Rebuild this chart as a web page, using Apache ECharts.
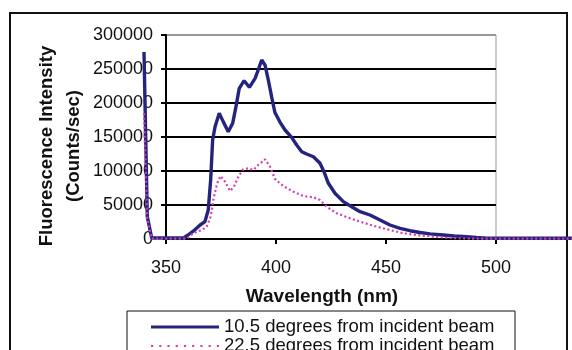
<!DOCTYPE html>
<html>
<head>
<meta charset="utf-8">
<script src="https://cdn.jsdelivr.net/npm/echarts@6/dist/echarts.min.js"></script>
<style>
  html, body { margin: 0; padding: 0; background: #fff; }
  #chart { width: 572px; height: 350px; }
</style>
</head>
<body>
<div id="chart"></div>
<script>
// series names
var seriesNames = ['10.5 degrees from incident beam', '22.5 degrees from incident beam'];

// 10.5 deg: wavelength (nm) and counts/sec
var wl105 = [340, 341.5, 343.5, 350, 358, 360, 363, 365.5, 367.7, 369.2, 370.3, 371.2, 372.3, 374.2, 376, 378.3, 380.3, 381.8, 383.3, 385.5, 387.9, 390.5, 391.9, 393.5, 395, 396.5, 398, 399.5, 401.8, 404.1, 407.1, 409.4, 411.7, 413.9, 417, 420, 421.8, 423.8, 426.8, 430.6, 434.4, 438.2, 442.7, 447.3, 451.8, 456.4, 460.9, 465.5, 470, 476, 481, 486.7, 491, 495.8, 500, 510, 520, 530, 540];
var int105 = [275000, 33000, 1500, 1500, 1500, 5900, 13200, 20600, 25500, 42600, 86800, 145600, 165200, 184800, 172600, 157800, 170100, 194600, 221600, 232800, 223100, 236300, 248500, 263200, 255900, 233800, 209300, 186000, 172000, 160300, 149500, 138200, 128400, 125000, 121000, 111300, 99000, 81900, 67200, 54900, 47500, 40200, 35300, 27900, 20600, 15700, 12200, 9500, 7500, 5900, 4500, 3400, 2200, 1200, 1000, 1000, 1000, 1000, 1000];

// 22.5 deg
var wl225 = [340, 341.5, 343.5, 350, 359.4, 362.4, 366.2, 368.5, 370.3, 371.8, 373.3, 374.8, 376.8, 379.1, 380.9, 382.9, 385.1, 387.4, 389.7, 391.9, 395, 397.3, 399.5, 401.8, 403.3, 407.9, 412.4, 417, 420, 423, 427.6, 433.6, 439.7, 445.8, 451.8, 457.9, 464, 471.5, 477, 483.6, 490, 500, 510, 520, 530, 540];
var int225 = [185000, 30000, 500, 500, 500, 8400, 13200, 18100, 32800, 62200, 81900, 92600, 84300, 70600, 76900, 91600, 102500, 104000, 101500, 108800, 117200, 106300, 88500, 81900, 77900, 69600, 63200, 61300, 57400, 47500, 37800, 30400, 24000, 18100, 13200, 8400, 5900, 3400, 2000, 1000, 500, 500, 500, 500, 500, 500];

function pairs(xs, ys) {
  return xs.map(function (x, i) { return [x, ys[i]]; });
}

var font = 'Liberation Sans, Arial, sans-serif';
var blue = '#24247f';
var pink = '#d23fb2';

// the data grid starts 22px left of the axes grid, at 2.2 px per nm (330px / 150nm)
var pxPerNm = 330 / 150;
var dataMax = 340 + (572 - 144) / pxPerNm;

// legend icons: solid bar and a row of dots
var dotPath = 'path://';
for (var i = 0; i < 9; i++) {
  var x0 = i * 8.3;
  dotPath += 'M' + x0 + ',0h2.2v2.2h-' + 2.2 + 'z';
}

var chart = echarts.init(document.getElementById('chart'), null, { renderer: 'canvas' });

var legendText = { color: '#111', fontSize: 18.5, fontFamily: font, lineHeight: 19 };

var option = {
  animation: false,
  backgroundColor: '#fff',
  grid: [
    { // visible axes 350..500
      left: 166, width: 330, top: 35, height: 204,
      show: true, borderColor: '#999', borderWidth: 1
    },
    { // data grid, same scale, wider range so the curves run past the axes
      left: 144, right: 0, top: 35, height: 204
    }
  ],
  xAxis: [
    {
      type: 'value', gridIndex: 0,
      min: 350, max: 500, interval: 50,
      axisLine: { lineStyle: { color: '#000', width: 2 } },
      axisTick: { show: true, length: 5, lineStyle: { color: '#000', width: 2 } },
      axisLabel: { color: '#111', fontSize: 18, fontFamily: font, margin: 20 },
      splitLine: { show: false }
    },
    { type: 'value', gridIndex: 1, min: 340, max: dataMax, show: false }
  ],
  yAxis: [
    {
      type: 'value', gridIndex: 0,
      min: 0, max: 300000, interval: 50000,
      axisLine: { show: true, lineStyle: { color: '#000', width: 2 } },
      axisTick: { show: true, length: 5, lineStyle: { color: '#000', width: 2 } },
      axisLabel: {
        color: '#111', fontSize: 18, fontFamily: font, margin: 13,
        formatter: function (v) { return String(v); }
      },
      splitLine: {
        show: true,
        lineStyle: { color: ['#000', '#000', '#000', '#000', '#000', '#000', '#999'], width: 2 }
      }
    },
    { type: 'value', gridIndex: 1, min: 0, max: 300000, show: false }
  ],
  legend: [
    {
      left: 151, top: 317.5, padding: 0,
      itemWidth: 68, itemHeight: 3,
      icon: 'rect',
      textStyle: legendText,
      data: [seriesNames[0]]
    },
    {
      left: 151, top: 336.5, padding: 0,
      itemWidth: 68, itemHeight: 2.2,
      icon: dotPath,
      textStyle: legendText,
      data: [seriesNames[1]]
    }
  ],
  graphic: [
    {
      type: 'rect', z: -1, silent: true,
      shape: { x: 10, y: 13, width: 557, height: 400 },
      style: { fill: 'none', stroke: '#111', lineWidth: 2 }
    },
    {
      type: 'rect', z: -1, silent: true,
      shape: { x: 127, y: 311, width: 388, height: 60 },
      style: { fill: 'none', stroke: '#111', lineWidth: 1 }
    },
    {
      type: 'text', x: 60, y: 146, rotation: Math.PI / 2,
      style: {
        text: 'Fluorescence Intensity\n(Counts/sec)',
        font: 'bold 18.5px ' + font, fill: '#111',
        align: 'center', verticalAlign: 'middle', lineHeight: 27
      }
    },
    {
      type: 'text', x: 322, y: 297,
      style: {
        text: 'Wavelength (nm)',
        font: 'bold 19px ' + font, fill: '#111',
        align: 'center', verticalAlign: 'middle'
      }
    }
  ],
  series: [
    {
      name: seriesNames[0],
      type: 'line',
      xAxisIndex: 1, yAxisIndex: 1,
      clip: false,
      showSymbol: false,
      z: 3,
      lineStyle: { color: blue, width: 3.4 },
      itemStyle: { color: blue },
      data: pairs(wl105, int105)
    },
    {
      name: seriesNames[1],
      type: 'line',
      xAxisIndex: 1, yAxisIndex: 1,
      clip: false,
      showSymbol: false,
      z: 4,
      lineStyle: { color: pink, width: 2.2, type: [2, 2.5] },
      itemStyle: { color: pink },
      data: pairs(wl225, int225)
    }
  ]
};

chart.setOption(option);
</script>
</body>
</html>
